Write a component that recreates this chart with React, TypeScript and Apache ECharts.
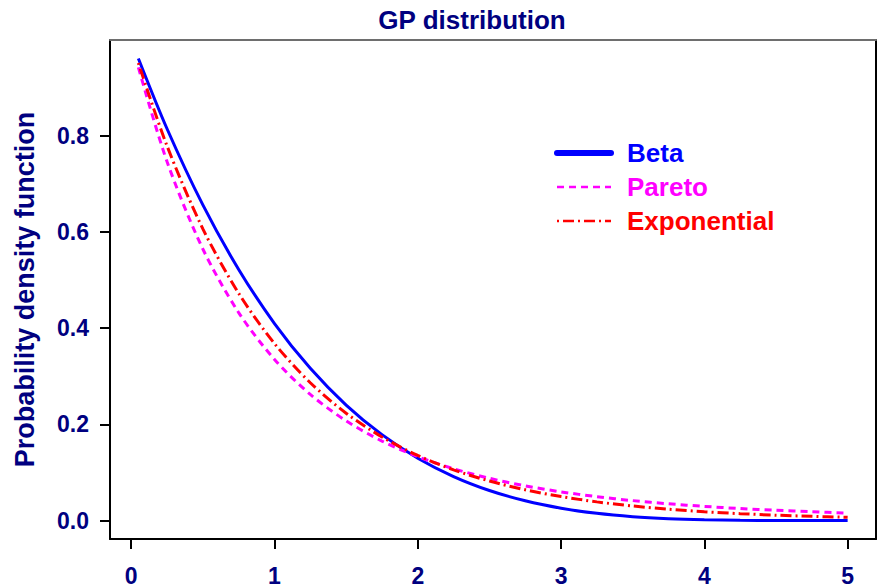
import React, { useEffect, useRef } from "react";
import * as echarts from "echarts";

const xValues = [0.05, 0.25, 0.5, 0.75, 1, 1.25, 1.5, 1.75, 2, 2.25, 2.5, 2.75, 3, 3.25, 3.5, 3.75, 4, 4.25, 4.5, 4.75, 5];
const betaValues = [0.9606, 0.8145, 0.6561, 0.522, 0.4096, 0.3164, 0.2401, 0.1785, 0.1296, 0.0915, 0.0625, 0.041, 0.0256, 0.015, 0.0081, 0.0039, 0.0016, 0.0005, 0.0001, 0.0, 0.0];
const paretoValues = [0.942, 0.7462, 0.5645, 0.4323, 0.3349, 0.2621, 0.2072, 0.1652, 0.1328, 0.1076, 0.0878, 0.0721, 0.0596, 0.0496, 0.0414, 0.0348, 0.0294, 0.0249, 0.0213, 0.0182, 0.0156];
const exponentialValues = [0.9512, 0.7788, 0.6065, 0.4724, 0.3679, 0.2865, 0.2231, 0.1738, 0.1353, 0.1054, 0.0821, 0.0639, 0.0498, 0.0388, 0.0302, 0.0235, 0.0183, 0.0143, 0.0111, 0.0087, 0.0067];
const xTicks = [0, 1, 2, 3, 4, 5];
const yTicks = [0, 0.2, 0.4, 0.6, 0.8];
const seriesNames = ["Beta", "Pareto", "Exponential"];

const FONT = "'Liberation Sans', Arial, Helvetica, sans-serif";
const NAVY = "#000080";

export default function App() {
  const ref = useRef<HTMLDivElement>(null);
  useEffect(() => {
    document.body.style.margin = "0";
    if (!ref.current) return;
    const chart = echarts.init(ref.current, undefined, { renderer: "svg", width: 881, height: 587 });
    const pair = (ys: number[]) => xValues.map((x, i) => [x, ys[i]]);
    const legendRows = [
      { name: seriesNames[0], color: "#0000FF", width: 6, dash: null as number[] | null, y: 153 },
      { name: seriesNames[1], color: "#FF00FF", width: 2.5, dash: [7, 5], y: 187 },
      { name: seriesNames[2], color: "#FF0000", width: 2.5, dash: [2, 4, 11, 4], y: 221 },
    ];
    const graphic: any[] = [];
    legendRows.forEach((r) => {
      graphic.push({
        type: "line",
        shape: { x1: 557, y1: r.y, x2: 611, y2: r.y },
        style: { stroke: r.color, lineWidth: r.width, lineDash: r.dash || undefined, lineCap: r.dash ? "butt" : "round" },
      });
      graphic.push({
        type: "text",
        x: 627,
        y: r.y,
        style: { text: r.name, fill: r.color, font: `bold 26px ${FONT}`, textVerticalAlign: "middle", verticalAlign: "middle" },
      });
    });
    chart.setOption({
      animation: false,
      backgroundColor: "#ffffff",
      title: {
        text: "GP distribution",
        left: 467,
        top: 2,
        textAlign: "center",
        textStyle: { fontFamily: FONT, fontWeight: "bold", fontSize: 26, color: NAVY },
      },
      grid: { left: 110, right: 5, top: 40, bottom: 41 },
      xAxis: [
        {
          type: "value",
          min: -0.148,
          max: 5.198,
          axisLine: { show: true, onZero: false, lineStyle: { color: "#000", width: 2 } },
          axisTick: { show: true, length: 10, lineStyle: { color: "#000", width: 2 }, customValues: xTicks },
          axisLabel: {
            customValues: xTicks,
            margin: 25,
            fontFamily: FONT,
            fontWeight: "bold",
            fontSize: 23,
            color: NAVY,
          },
          splitLine: { show: false },
        },
        {
          type: "value",
          position: "top",
          min: -0.148,
          max: 5.198,
          axisLine: { show: true, onZero: false, lineStyle: { color: "#6e6e6e", width: 2 } },
          axisTick: { show: false },
          axisLabel: { show: false },
          splitLine: { show: false },
        },
      ],
      yAxis: [
        {
          type: "value",
          min: -0.0384,
          max: 0.999,
          name: "Probability density function",
          nameLocation: "middle",
          nameGap: 72,
          nameTextStyle: { fontFamily: FONT, fontWeight: "bold", fontSize: 27, color: NAVY },
          axisLine: { show: true, onZero: false, lineStyle: { color: "#000", width: 2 } },
          axisTick: { show: true, length: 10, lineStyle: { color: "#000", width: 2 }, customValues: yTicks },
          axisLabel: {
            customValues: yTicks,
            margin: 21,
            formatter: (v: number) => v.toFixed(1),
            fontFamily: FONT,
            fontWeight: "bold",
            fontSize: 23,
            color: NAVY,
          },
          splitLine: { show: false },
        },
        {
          type: "value",
          position: "right",
          min: -0.0384,
          max: 0.999,
          axisLine: { show: true, onZero: false, lineStyle: { color: "#000", width: 2 } },
          axisTick: { show: false },
          axisLabel: { show: false },
          splitLine: { show: false },
        },
      ],
      series: [
        {
          name: seriesNames[0],
          type: "line",
          data: pair(betaValues),
          showSymbol: false,
          smooth: 0.3,
          lineStyle: { color: "#0000FF", width: 3 },
          z: 2,
        },
        {
          name: seriesNames[1],
          type: "line",
          data: pair(paretoValues),
          showSymbol: false,
          smooth: 0.3,
          lineStyle: { color: "#FF00FF", width: 3, type: [7, 5] },
          z: 3,
        },
        {
          name: seriesNames[2],
          type: "line",
          data: pair(exponentialValues),
          showSymbol: false,
          smooth: 0.3,
          lineStyle: { color: "#FF0000", width: 3, type: [2, 4, 11, 4] },
          z: 4,
        },
      ],
      graphic,
    });
    return () => chart.dispose();
  }, []);
  return <div ref={ref} style={{ position: "fixed", left: 0, top: 0, width: 881, height: 587 }} />;
}
